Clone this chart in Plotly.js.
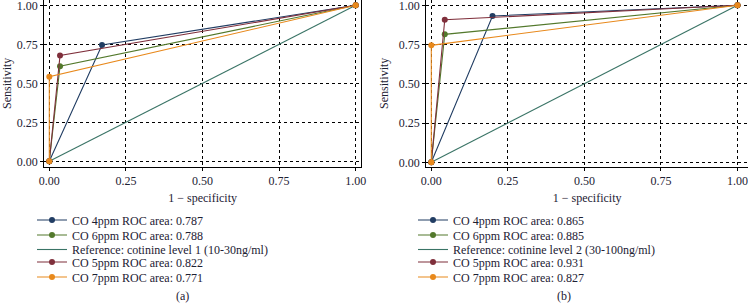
<!DOCTYPE html>
<html>
<head>
<meta charset="utf-8">
<script src="https://cdn.plot.ly/plotly-3.0.1.min.js"></script>
<style>html,body{margin:0;padding:0;background:#fff;}#chart{width:748px;height:305px;}</style>
</head>
<body>
<div id="chart"></div>
<script>
// Panel (a): cotinine level 1
const a_co4_x = [0, 0.172, 1];
const a_co4_y = [0, 0.746, 1];
const a_co6_x = [0, 0.035, 1];
const a_co6_y = [0, 0.610, 1];
const a_ref_x = [0, 1];
const a_ref_y = [0, 1];
const a_co5_x = [0, 0.035, 1];
const a_co5_y = [0, 0.678, 1];
const a_co7_x = [0, 0, 1];
const a_co7_y = [0, 0.542, 1];
const a_names = ["CO 4ppm ROC area: 0.787", "CO 6ppm ROC area: 0.788",
  "Reference: cotinine level 1 (10-30ng/ml)", "CO 5ppm ROC area: 0.822", "CO 7ppm ROC area: 0.771"];

// Panel (b): cotinine level 2
const b_co4_x = [0, 0.200, 1];
const b_co4_y = [0, 0.932, 1];
const b_co6_x = [0, 0.044, 1];
const b_co6_y = [0, 0.815, 1];
const b_ref_x = [0, 1];
const b_ref_y = [0, 1];
const b_co5_x = [0, 0.044, 1];
const b_co5_y = [0, 0.908, 1];
const b_co7_x = [0, 0, 1];
const b_co7_y = [0, 0.745, 1];
const b_names = ["CO 4ppm ROC area: 0.865", "CO 6ppm ROC area: 0.885",
  "Reference: cotinine level 2 (30-100ng/ml)", "CO 5ppm ROC area: 0.931", "CO 7ppm ROC area: 0.827"];

const tickVals = [0, 0.25, 0.5, 0.75, 1];
const tickText = ["0.00", "0.25", "0.50", "0.75", "1.00"];

const colors = ["#213d63", "#53792c", "#3a7466", "#7f2f3b", "#e8891c"];
const FONT = "Liberation Serif";
const TXT = "#1d2133";

// legend row centres (px from top)
const legRows = [220, 235, 249.5, 262, 277];

function tr(x, y, name, i, xa, ya, leg, markers) {
  return {
    x: x, y: y, name: name, type: "scatter",
    mode: markers ? "lines+markers" : "lines",
    line: {color: colors[i], width: 1.1},
    marker: {color: colors[i], size: 6},
    xaxis: xa, yaxis: ya, legend: leg
  };
}

const aX = [a_co4_x, a_co6_x, a_ref_x, a_co5_x, a_co7_x];
const aY = [a_co4_y, a_co6_y, a_ref_y, a_co5_y, a_co7_y];
const bX = [b_co4_x, b_co6_x, b_ref_x, b_co5_x, b_co7_x];
const bY = [b_co4_y, b_co6_y, b_ref_y, b_co5_y, b_co7_y];

const data = [];
for (let i = 0; i < 5; i++) {
  data.push(tr(aX[i], aY[i], a_names[i], i, "x", "y", i === 0 ? "legend" : "legend" + (i + 1), i !== 2));
}
for (let i = 0; i < 5; i++) {
  data.push(tr(bX[i], bY[i], b_names[i], i, "x2", "y2", "legend" + (i + 6), i !== 2));
}

function xax(domain, range, mirror) {
  return {
    domain: domain, range: range, tickvals: tickVals, ticktext: tickText,
    ticks: "outside", ticklen: 3, tickcolor: "#000", tickwidth: 1,
    showline: true, linecolor: "#000", linewidth: 1.2, mirror: mirror,
    showgrid: true, gridcolor: "#000", griddash: "dot", gridwidth: 1,
    zeroline: false, ticklabeloverflow: "allow",
    tickfont: {family: FONT, size: 12, color: TXT},
    title: {text: "1 − specificity", font: {family: FONT, size: 12, color: TXT}, standoff: 6}
  };
}
function yax(domain, range, mirror) {
  return {
    domain: domain, range: range, tickvals: tickVals, ticktext: tickText,
    ticks: "outside", ticklen: 3, tickcolor: "#000", tickwidth: 1,
    showline: true, linecolor: "#000", linewidth: 1.2, mirror: mirror,
    showgrid: true, gridcolor: "#000", griddash: "dot", gridwidth: 1,
    zeroline: false, ticklabeloverflow: "allow",
    tickfont: {family: FONT, size: 12, color: TXT},
    title: {text: "Sensitivity", font: {family: FONT, size: 12, color: TXT}, standoff: 7}
  };
}

const yDom = [(305 - 166.7) / 305, 1];
const legFont = {family: FONT, size: 12, color: TXT};

const layout = {
  width: 748, height: 305,
  margin: {l: 0, r: 0, t: 0, b: 0},
  paper_bgcolor: "#fff", plot_bgcolor: "#fff",
  showlegend: true,
  xaxis: Object.assign(xax([44.3 / 748, 361 / 748], [-0.0163, 1.0173], false), {anchor: "y"}),
  yaxis: Object.assign(yax(yDom, [-0.0346, 1.034], true), {anchor: "x"}),
  xaxis2: Object.assign(xax([426.3 / 748, 1], [-0.0163, 1.0343], false), {anchor: "y2"}),
  yaxis2: Object.assign(yax(yDom, [-0.028, 1.0338], false), {anchor: "x2"}),
  annotations: [
    {text: "(a)", xref: "paper", yref: "paper", x: 182 / 748, y: 0,
      xanchor: "center", yanchor: "bottom", showarrow: false, font: legFont},
    {text: "(b)", xref: "paper", yref: "paper", x: 564 / 748, y: 0,
      xanchor: "center", yanchor: "bottom", showarrow: false, font: legFont}
  ]
};

for (let k = 0; k < 10; k++) {
  const key = k === 0 ? "legend" : "legend" + (k + 1);
  const left = k < 5 ? 32 : 413;
  layout[key] = {
    x: left / 748, y: 1 - legRows[k % 5] / 305, xanchor: "left", yanchor: "middle",
    font: legFont, bgcolor: "rgba(0,0,0,0)", borderwidth: 0, itemwidth: 30
  };
}

Plotly.newPlot("chart", data, layout, {displayModeBar: false, staticPlot: true});
</script>
</body>
</html>
